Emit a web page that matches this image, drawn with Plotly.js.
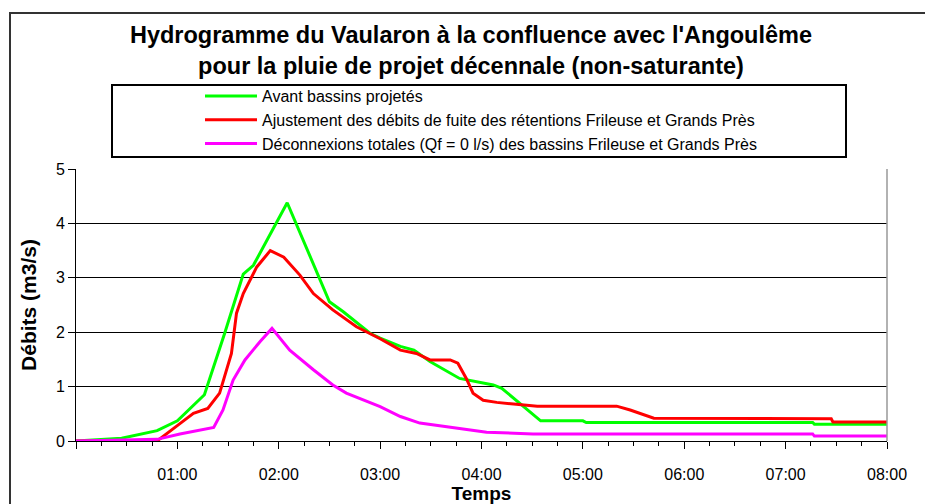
<!DOCTYPE html>
<html>
<head>
<meta charset="utf-8">
<script src="https://cdn.plot.ly/plotly-3.0.1.min.js"></script>
<style>html,body{margin:0;padding:0;background:#fff;}#chart{width:925px;height:504px;}</style>
</head>
<body>
<div id="chart"></div>
<script>
// Time in minutes since 00:00
const seriesNames = [
  "Avant bassins projetés",
  "Ajustement des débits de fuite des rétentions Frileuse et Grands Près",
  "Déconnexions totales (Qf = 0 l/s) des bassins Frileuse et Grands Près"
];
const greenT = [0, 27, 48, 60, 76, 88, 99, 105, 125, 140.5, 150, 158, 174, 180, 192, 200, 209.5, 227, 247, 252, 275, 300, 302, 436, 437, 480];
const greenV = [0, 0.05, 0.19, 0.37, 0.85, 1.98, 3.07, 3.23, 4.38, 3.27, 2.56, 2.38, 1.98, 1.89, 1.74, 1.67, 1.46, 1.15, 1.03, 0.97, 0.37, 0.37, 0.34, 0.34, 0.31, 0.31];
const redT = [0, 48, 61.5, 69.5, 78, 85, 92, 95, 99, 107, 115, 123, 132.5, 140.5, 152, 166, 180, 192, 201.5, 209.5, 221.5, 226, 231, 235, 241, 249, 259, 273, 320, 328, 342, 447, 448, 480];
const redV = [0, 0, 0.32, 0.51, 0.60, 0.88, 1.61, 2.35, 2.71, 3.20, 3.50, 3.38, 3.05, 2.71, 2.41, 2.10, 1.88, 1.67, 1.61, 1.49, 1.49, 1.43, 1.15, 0.88, 0.75, 0.71, 0.68, 0.64, 0.64, 0.57, 0.42, 0.41, 0.35, 0.35];
const magT = [0, 48, 61.5, 73.5, 81.5, 87, 93, 100, 109, 116, 126.5, 140.5, 152, 160, 170, 180, 192, 203.5, 219.5, 233, 243, 270.5, 436, 437, 480];
const magV = [0, 0.03, 0.13, 0.20, 0.25, 0.57, 1.12, 1.49, 1.83, 2.07, 1.67, 1.31, 1.03, 0.88, 0.75, 0.63, 0.45, 0.33, 0.26, 0.20, 0.16, 0.13, 0.13, 0.09, 0.09];
const tickVals = [0, 60, 120, 180, 240, 300, 360, 420, 480];
const tickText = ["", "01:00", "02:00", "03:00", "04:00", "05:00", "06:00", "07:00", "08:00"];
const colors = ["#00FF00", "#FF0000", "#FF00FF"];

const FONT = "Arial, 'Liberation Sans', sans-serif";
const traces = [[greenT, greenV], [redT, redV], [magT, magV]].map((s, i) => ({
  type: "scatter", mode: "lines", x: s[0], y: s[1], name: seriesNames[i],
  line: {color: colors[i], width: 3}
}));

const layout = {
  width: 925, height: 504,
  margin: {l: 76, r: 38, t: 169, b: 63},
  paper_bgcolor: "#fff", plot_bgcolor: "#fff",
  font: {family: FONT, color: "#000"},
  title: {
    text: "Hydrogramme du Vaularon à la confluence avec l'Angoulême<br>pour la pluie de projet décennale (non-saturante)",
    font: {size: 23.5, weight: "bold", family: FONT, color: "#000"},
    x: 471 / 925, xanchor: "center", xref: "container",
    y: 1 - 43 / 504, yanchor: "top", yref: "container"
  },
  showlegend: true,
  legend: {
    x: (200 - 76) / 811, xanchor: "left", y: (441 - 79) / 272, yanchor: "top",
    bgcolor: "rgba(0,0,0,0)", borderwidth: 0,
    font: {size: 16, family: FONT, color: "#000"},
    itemwidth: 52, tracegroupgap: 0
  },
  xaxis: {
    range: [0, 480], showgrid: false, zeroline: false,
    showline: true, linecolor: "#000", linewidth: 1,
    tickmode: "array", tickvals: tickVals, ticktext: tickText,
    ticks: "outside", ticklen: 7, tickcolor: "#000", tickwidth: 1,
    ticklabelstandoff: 12,
    tickfont: {size: 16, family: FONT, color: "#000"},
    minor: {tickmode: "linear", tick0: 0, dtick: 15, ticks: "outside", ticklen: 4, tickcolor: "#000", showgrid: false},
    title: {text: "Temps", font: {size: 19, weight: "bold", family: FONT, color: "#000"}, standoff: 4}
  },
  yaxis: {
    range: [0, 5], dtick: 1, tick0: 0, showgrid: true, gridcolor: "#000", gridwidth: 1,
    zeroline: false, showline: true, linecolor: "#000", linewidth: 1,
    ticks: "outside", ticklen: 7, tickcolor: "#000",
    tickfont: {size: 16, family: FONT, color: "#000"},
    title: {text: "Débits (m3/s)", font: {size: 21, weight: "bold", family: FONT, color: "#000"}, standoff: 13}
  },
  shapes: [
    {type: "rect", xref: "paper", yref: "paper", x0: (10 - 76) / 811, x1: (960 - 76) / 811, y0: -0.5, y1: (441 - 13) / 272,
     line: {color: "#333", width: 2}, fillcolor: "rgba(0,0,0,0)", layer: "below"},
    {type: "rect", xref: "paper", yref: "paper", x0: (112 - 76) / 811, x1: (846 - 76) / 811, y0: (441 - 157) / 272, y1: (441 - 85) / 272,
     line: {color: "#000", width: 2}, fillcolor: "rgba(0,0,0,0)"},
    {type: "line", xref: "paper", yref: "paper", x0: 1, x1: 1, y0: 0, y1: 1, line: {color: "#999", width: 1.5}}
  ]
};

Plotly.newPlot("chart", traces, layout, {displayModeBar: false, staticPlot: true});
</script>
</body>
</html>
